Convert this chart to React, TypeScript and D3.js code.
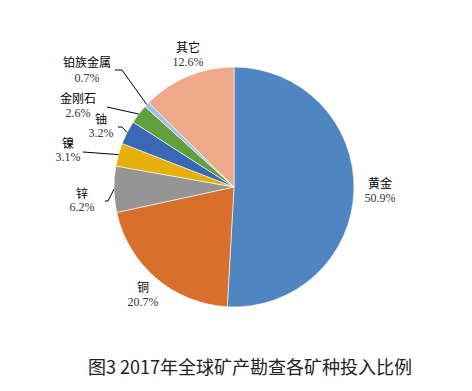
import React from 'react';
import * as d3 from 'd3';

const categories = ['黄金', '铜', '锌', '镍', '铀', '金刚石', '铂族金属', '其它'];
const shares = [50.9, 20.7, 6.2, 3.1, 3.2, 2.6, 0.7, 12.6];
const pctLabels = ['50.9%', '20.7%', '6.2%', '3.1%', '3.2%', '2.6%', '0.7%', '12.6%'];
const title = '图3 2017年全球矿产勘查各矿种投入比例';

const colors = ['#4f86c1', '#d8702c', '#959595', '#e5b00c', '#3a68b5', '#62a03e', '#9ec3e4', '#f0a88a'];

// label placement relative to pie centre: [x, nameY, pctY]
const labelPos: [number, number, number][] = [
    [146, -4, 11],
    [-91, 100, 115],
    [-152, 6, 20],
    [-166, -44, -30],
    [-133, -68, -54],
    [-156, -89, -74],
    [-147, -125, -109],
    [-46, -140, -125]
];

// leader line bends (after the arc point), relative to centre
const leaders: ([number, number][] | null)[] = [
    null,
    null,
    [[-126, 14], [-129, 14]],
    [[-151, -35]],
    [[-112, -60], [-116, -60]],
    [[-127, -80]],
    [[-112, -117], [-119, -117]],
    null
];

const width = 472;
const height = 391;
const cx = 234;
const cy = 187;
const radius = 120;

export default function App() {
    const pie = d3.pie<number>().sort(null).value((d) => d);
    const arcs = pie(shares);
    const arc = d3.arc<d3.PieArcDatum<number>>().innerRadius(0).outerRadius(radius);
    const line = d3.line();

    const edgePoint = (a: d3.PieArcDatum<number>): [number, number] => {
        const mid = (a.startAngle + a.endAngle) / 2;
        return [radius * Math.sin(mid), -radius * Math.cos(mid)];
    };

    const labelFont = '"Liberation Serif", "Noto Sans CJK SC", serif';

    return (
        <svg width={width} height={height}
            style={{position: 'absolute', left: 0, top: 0, background: '#fff'}}>
            <g transform={`translate(${cx}, ${cy})`}>
                {arcs.map((a, i) => (
                    <path key={categories[i]} d={arc(a) || ''} fill={colors[i]}
                        stroke="#fff" strokeWidth={0.6} />
                ))}
                {arcs.map((a, i) => {
                    const bends = leaders[i];
                    if (!bends) return null;
                    const pts: [number, number][] = [edgePoint(a), ...bends];
                    return <path key={'l' + i} d={line(pts) || ''} fill="none" stroke="#000" strokeWidth={1} />;
                })}
                {categories.map((c, i) => (
                    <g key={'t' + i} fontFamily={labelFont} fontSize={12} textAnchor="middle">
                        <text x={labelPos[i][0]} y={labelPos[i][1] + 5} fill="#000">{c}</text>
                        <text x={labelPos[i][0]} y={labelPos[i][2] + 4} fill="#333">{pctLabels[i]}</text>
                    </g>
                ))}
            </g>
            <text x={250} y={374} textAnchor="middle" fontSize={18}
                fontFamily='"Noto Sans CJK SC", sans-serif' fill="#222">{title}</text>
        </svg>
    );
}
